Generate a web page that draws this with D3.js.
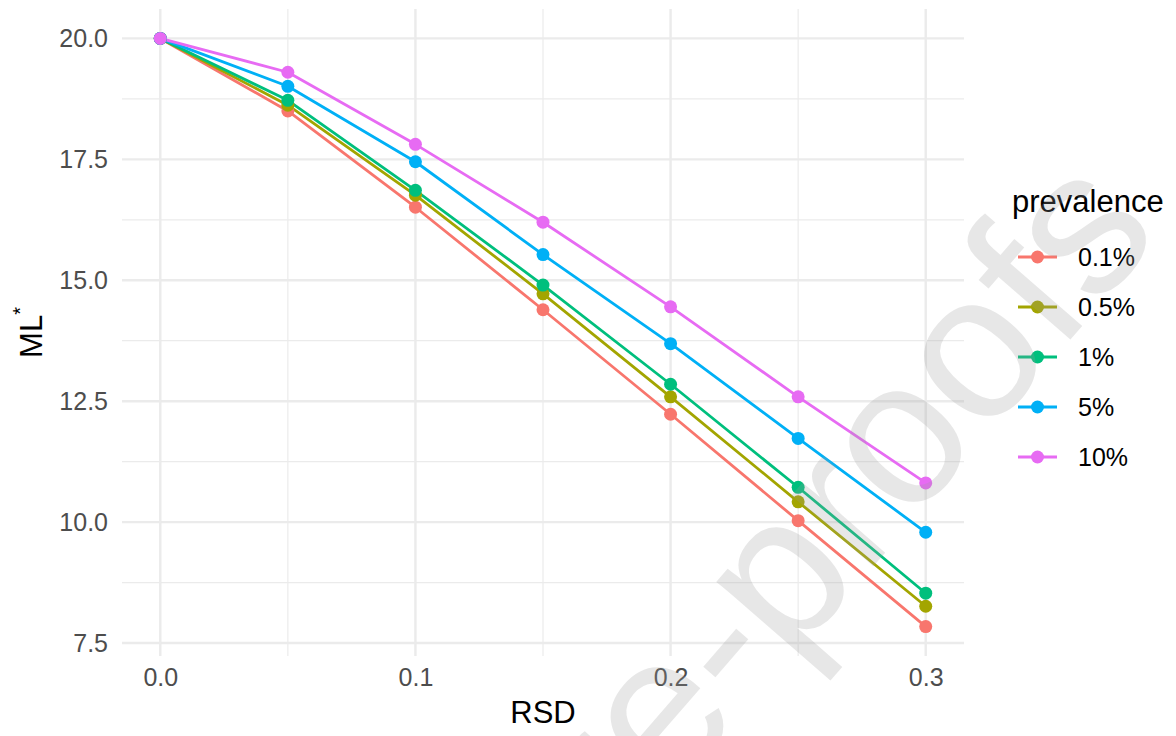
<!DOCTYPE html>
<html>
<head>
<meta charset="utf-8">
<script src="https://cdn.jsdelivr.net/npm/d3@7"></script>
<style>
  html, body { margin: 0; padding: 0; background: #fff; }
  svg { display: block; font-family: "Liberation Sans", Arial, Helvetica, sans-serif; }
</style>
</head>
<body>
<svg id="chart" width="1176" height="736"></svg>
<script>
// ---- data ----
const rsd = [0, 0.05, 0.1, 0.15, 0.2, 0.25, 0.3];
const prevalenceLevels = ["0.1%", "0.5%", "1%", "5%", "10%"];
const ml_0_1 = [20, 18.50, 16.51, 14.39, 12.23, 10.03, 7.84];
const ml_0_5 = [20, 18.62, 16.76, 14.72, 12.59, 10.42, 8.26];
const ml_1   = [20, 18.72, 16.86, 14.90, 12.85, 10.72, 8.53];
const ml_5   = [20, 19.01, 17.45, 15.53, 13.69, 11.73, 9.79];
const ml_10  = [20, 19.30, 17.81, 16.20, 14.45, 12.59, 10.81];
const seriesValues = [ml_0_1, ml_0_5, ml_1, ml_5, ml_10];
const colors = ["#F8766D", "#A3A500", "#00BF7D", "#00B0F6", "#E76BF3"];
const xTicks = [0, 0.1, 0.2, 0.3];
const xMinor = [0.05, 0.15, 0.25];
const yTicks = [7.5, 10, 12.5, 15, 17.5, 20];
const yMinor = [8.75, 11.25, 13.75, 16.25, 18.75];

const series = prevalenceLevels.map((p, i) => ({
  name: p, color: colors[i],
  values: rsd.map((x, j) => ({x, y: seriesValues[i][j]}))
}));

const svg = d3.select("#chart");
const panel = {left: 122, right: 964, top: 9, bottom: 656};

const allY = seriesValues.flat();
const yMin = d3.min(allY), yMax = d3.max(allY);
const yPad = (yMax - yMin) * 0.05;
const xMin = d3.min(rsd), xMax = d3.max(rsd);
const xPad = (xMax - xMin) * 0.05;

const x = d3.scaleLinear().domain([xMin - xPad, xMax + xPad]).range([panel.left, panel.right]);
const y = d3.scaleLinear().domain([yMin - yPad, yMax + yPad]).range([panel.bottom, panel.top]);

const grid = svg.append("g");
// minor grid
grid.selectAll(".ymin").data(yMinor).join("line")
  .attr("x1", panel.left).attr("x2", panel.right)
  .attr("y1", d => y(d)).attr("y2", d => y(d))
  .attr("stroke", "#EBEBEB").attr("stroke-width", 1.2);
grid.selectAll(".xmin").data(xMinor).join("line")
  .attr("y1", panel.top).attr("y2", panel.bottom)
  .attr("x1", d => x(d)).attr("x2", d => x(d))
  .attr("stroke", "#EBEBEB").attr("stroke-width", 1.2);
// major grid
grid.selectAll(".ymaj").data(yTicks).join("line")
  .attr("x1", panel.left).attr("x2", panel.right)
  .attr("y1", d => y(d)).attr("y2", d => y(d))
  .attr("stroke", "#EBEBEB").attr("stroke-width", 2.4);
grid.selectAll(".xmaj").data(xTicks).join("line")
  .attr("y1", panel.top).attr("y2", panel.bottom)
  .attr("x1", d => x(d)).attr("x2", d => x(d))
  .attr("stroke", "#EBEBEB").attr("stroke-width", 2.4);

// axes using d3 axis generators (no domain/ticks)
const fmt = d3.format(".1f");
const yAxis = svg.append("g").attr("transform", `translate(${panel.left},0)`)
  .call(d3.axisLeft(y).tickValues(yTicks).tickFormat(fmt).tickSize(0).tickPadding(14));
const xAxis = svg.append("g").attr("transform", `translate(0,${panel.bottom})`)
  .call(d3.axisBottom(x).tickValues(xTicks).tickFormat(fmt).tickSize(0).tickPadding(12));
[yAxis, xAxis].forEach(a => {
  a.select(".domain").remove();
  a.selectAll("text").attr("fill", "#4D4D4D").style("font-size", "25px")
    .style("font-family", '"Liberation Sans", Arial, sans-serif');
});

// lines
const line = d3.line().x(d => x(d.x)).y(d => y(d.y));
svg.append("g").selectAll("path").data(series).join("path")
  .attr("d", d => line(d.values))
  .attr("fill", "none").attr("stroke", d => d.color).attr("stroke-width", 2.8)
  .attr("stroke-linejoin", "round");
// points
svg.append("g").selectAll("g").data(series).join("g")
  .attr("fill", d => d.color)
  .selectAll("circle").data(d => d.values).join("circle")
  .attr("cx", d => x(d.x)).attr("cy", d => y(d.y)).attr("r", 6.5);

// axis titles
svg.append("text").attr("x", (panel.left + panel.right) / 2).attr("y", 723)
  .attr("text-anchor", "middle").attr("font-size", 31).attr("fill", "#000").text("RSD");
const ylab = svg.append("text")
  .attr("transform", `translate(42,${(panel.top + panel.bottom) / 2}) rotate(-90)`)
  .attr("text-anchor", "middle").attr("font-size", 31).attr("fill", "#000");
ylab.append("tspan").text("ML");
ylab.append("tspan").attr("font-size", 20).attr("dy", "-0.75em").text("*");

// legend
const leg = svg.append("g");
leg.append("text").attr("x", 1012).attr("y", 212).attr("font-size", 31).attr("fill", "#000").text("prevalence");
const items = leg.selectAll(".item").data(series).join("g")
  .attr("transform", (d, i) => `translate(0,${257 + i * 50})`);
items.append("line").attr("x1", 1018).attr("x2", 1057).attr("y1", 0).attr("y2", 0)
  .attr("stroke", d => d.color).attr("stroke-width", 2.8);
items.append("circle").attr("cx", 1037.5).attr("cy", 0).attr("r", 6.5).attr("fill", d => d.color);
items.append("text").attr("x", 1078).attr("y", 9).attr("font-size", 25).attr("fill", "#000")
  .text(d => d.name);

// watermark
svg.append("text")
  .attr("transform", "translate(1163,233) rotate(-49)")
  .attr("text-anchor", "end").attr("font-size", 205)
  .attr("fill", "#9a9a9a").attr("fill-opacity", 0.24)
  .text("Journal Pre-proofs");
</script>
</body>
</html>
